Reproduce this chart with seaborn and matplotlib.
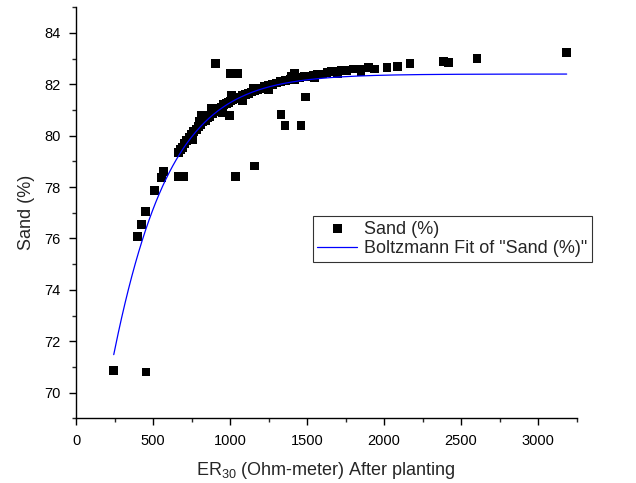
import numpy as np
import pandas as pd
import seaborn as sns
import matplotlib.pyplot as plt
from matplotlib.ticker import MultipleLocator

# ER30 after planting (Ohm-meter) vs sand content (%)
er30 = [245, 455, 400, 424, 450, 511, 555, 570, 668, 698,
        665, 680, 690, 705, 720, 735, 750, 765, 780, 795,
        810, 825, 840, 855, 870, 885, 900, 915, 930, 945,
        960, 975, 990, 1005, 1020, 1040, 1060, 1080, 1100, 1120,
        1140, 1160, 1180, 1200, 1225, 1250, 1275, 1300, 1330, 1360,
        1390, 1420, 1450, 1480, 1510, 1540, 1570, 1600, 1630, 1660,
        1690, 1720, 1760, 1800, 1850, 1900, 1940, 2020, 2085, 2169,
        2385, 2418, 2604, 3186,
        812, 864, 995, 905, 1002, 1051, 1419, 1488, 1331, 1357,
        1461, 1157, 1034,
        760, 800, 880, 950, 1010, 1080, 1150, 1250, 1400, 1550,
        1700, 1850]
sand = [70.85, 70.80, 76.07, 76.53, 77.04, 77.86, 78.37, 78.62, 78.41, 78.41,
        79.35, 79.45, 79.55, 79.70, 79.80, 79.95, 80.05, 80.15, 80.25, 80.35,
        80.45, 80.55, 80.60, 80.70, 80.75, 80.85, 80.95, 81.00, 81.05, 81.10,
        81.20, 81.25, 81.30, 81.35, 81.40, 81.45, 81.50, 81.55, 81.60, 81.65,
        81.70, 81.75, 81.80, 81.85, 81.90, 81.95, 82.00, 82.05, 82.10, 82.15,
        82.20, 82.20, 82.25, 82.30, 82.30, 82.35, 82.40, 82.40, 82.45, 82.50,
        82.50, 82.55, 82.55, 82.60, 82.60, 82.65, 82.60, 82.66, 82.68, 82.80,
        82.88, 82.86, 83.02, 83.25,
        80.80, 80.80, 80.80, 82.82, 82.43, 82.43, 82.43, 81.51, 80.81, 80.41,
        80.41, 78.82, 78.41,
        79.85, 80.55, 81.05, 80.90, 81.55, 81.35, 81.85, 81.80, 82.30, 82.25,
        82.40, 82.50]

# Boltzmann fit parameters
A1, A2, x0, dx = 13.4, 82.4, -273.0, 310.0

df = pd.DataFrame({"er": er30, "sand": sand})
xf = np.linspace(min(er30), max(er30), 400)
fit = pd.DataFrame({"er": xf, "sand": A2 + (A1 - A2) / (1 + np.exp((xf - x0) / dx))})

sns.set_style("ticks")
plt.rcParams["font.family"] = ["Liberation Sans", "DejaVu Sans"]
plt.rcParams["mathtext.default"] = "regular"

fig = plt.figure(figsize=(6.36, 4.83), dpi=100)
ax = fig.add_axes([0.1195, 0.134, 0.787, 0.851])

sns.scatterplot(data=df, x="er", y="sand", marker="s", s=40, color="black",
                edgecolor="none", ax=ax, label="Sand (%)", zorder=2)
sns.lineplot(data=fit, x="er", y="sand", color="#0000ff", lw=0.9, ax=ax,
             label='Boltzmann Fit of "Sand (%)"', zorder=3)

ax.set_xlim(0, 3250)
ax.set_ylim(69, 85)
ax.xaxis.set_major_locator(MultipleLocator(500))
ax.xaxis.set_minor_locator(MultipleLocator(250))
ax.yaxis.set_major_locator(MultipleLocator(2))
ax.yaxis.set_minor_locator(MultipleLocator(1))
ax.tick_params(which="major", direction="out", length=5, width=1, labelsize=10.5,
               colors="black", pad=6)
ax.tick_params(which="minor", direction="out", length=3, width=1)
sns.despine(ax=ax)
for s in ["left", "bottom"]:
    ax.spines[s].set_linewidth(1)
    ax.spines[s].set_color("black")

ax.set_xlabel("ER$_{30}$ (Ohm-meter) After planting", fontsize=13, labelpad=9)
ax.set_ylabel("Sand (%)", fontsize=13, labelpad=7)

leg = ax.legend(loc="upper left", bbox_to_anchor=(0.473, 0.492), borderaxespad=0,
                frameon=True, fancybox=False, fontsize=13, handlelength=2.2,
                borderpad=0.25, labelspacing=0.15, handletextpad=0.4)
leg.get_frame().set_edgecolor("black")
leg.get_frame().set_linewidth(0.8)

fig.savefig("out.png", dpi=100)
